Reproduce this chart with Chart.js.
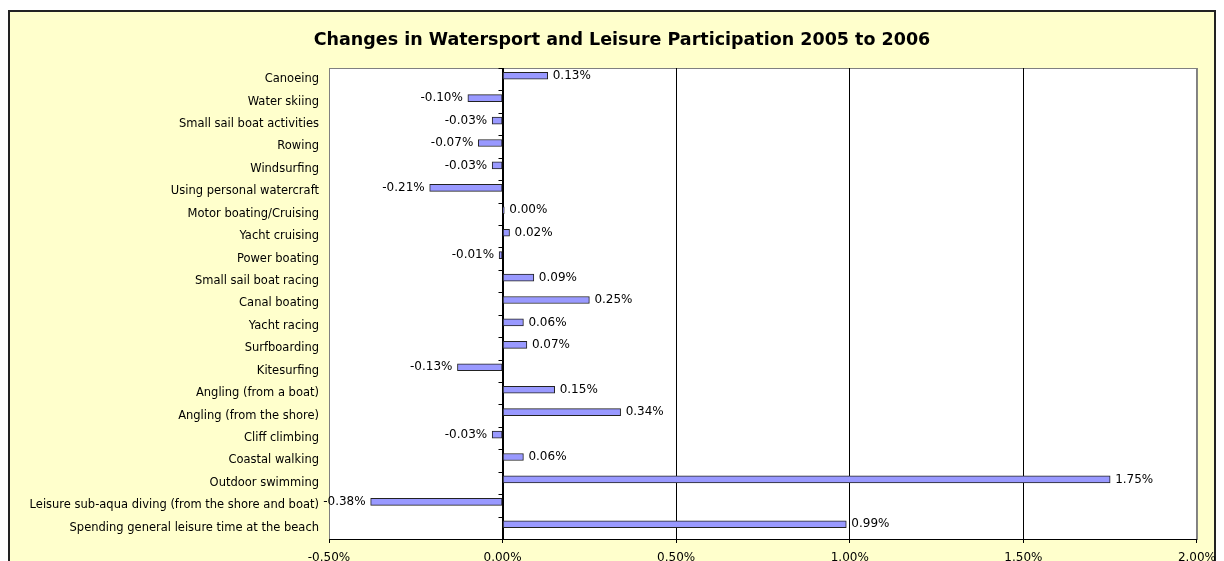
<!DOCTYPE html>
<html>
<head>
<meta charset="utf-8">
<script src="https://cdn.jsdelivr.net/npm/chart.js@4"></script>
<style>
  html, body { margin: 0; padding: 0; background: #fff; }
  canvas { display: block; }
</style>
</head>
<body>
<canvas id="chart" width="1224" height="561"></canvas>
<script>
// Category labels, top to bottom as drawn
const categories = [
  'Canoeing',
  'Water skiing',
  'Small sail boat activities',
  'Rowing',
  'Windsurfing',
  'Using personal watercraft',
  'Motor boating/Cruising',
  'Yacht cruising',
  'Power boating',
  'Small sail boat racing',
  'Canal boating',
  'Yacht racing',
  'Surfboarding',
  'Kitesurfing',
  'Angling (from a boat)',
  'Angling (from the shore)',
  'Cliff climbing',
  'Coastal walking',
  'Outdoor swimming',
  'Leisure sub-aqua diving (from the shore and boat)',
  'Spending general leisure time at the beach'
];

// Change in participation, percentage points
const changes = [
  0.13, -0.10, -0.03, -0.07, -0.03, -0.21, 0.0049, 0.02, -0.01, 0.09,
  0.25, 0.06, 0.07, -0.13, 0.15, 0.34, -0.03, 0.06, 1.75, -0.38, 0.99
];

// Value axis ticks
const axisTicks = [-0.5, 0, 0.5, 1.0, 1.5, 2.0];

const chartTitle = 'Changes in Watersport and Leisure Participation 2005 to 2006';

const FONT = 'DejaVu Sans';

// Chart frame, title, plot area, zero line with category ticks, value labels
const framePlugin = {
  id: 'frame',
  beforeDraw(chart) {
    const ctx = chart.ctx;
    const a = chart.chartArea;
    ctx.save();
    ctx.fillStyle = '#fff';
    ctx.fillRect(0, 0, chart.width, chart.height);
    ctx.fillStyle = '#FFFFCC';
    ctx.fillRect(9, 11, 1206, 560);
    ctx.strokeStyle = '#222';
    ctx.lineWidth = 2;
    ctx.strokeRect(9, 11, 1206, 560);
    ctx.fillStyle = '#fff';
    ctx.fillRect(a.left, a.top, a.right - a.left, a.bottom - a.top);
    ctx.strokeStyle = '#808080';
    ctx.lineWidth = 1;
    ctx.strokeRect(a.left + 0.5, a.top + 0.5, a.right - a.left, a.bottom - a.top);
    // title
    ctx.fillStyle = '#000';
    ctx.font = 'bold 17.5px "' + FONT + '"';
    ctx.textAlign = 'center';
    ctx.textBaseline = 'alphabetic';
    ctx.fillText(chartTitle, 622, 45);
    ctx.restore();
  },
  beforeDatasetsDraw(chart) {
    const ctx = chart.ctx;
    const a = chart.chartArea;
    const x0 = Math.round(chart.scales.x.getPixelForValue(0)) + 0.5;
    const y = chart.scales.y;
    const step = (a.bottom - a.top) / categories.length;
    ctx.save();
    ctx.strokeStyle = '#000';
    ctx.lineWidth = 1;
    ctx.beginPath();
    ctx.moveTo(x0, a.top);
    ctx.lineTo(x0, a.bottom);
    for (let i = 0; i <= categories.length; i++) {
      const py = Math.round(y.getPixelForValue(i) - step / 2) + 0.5;
      ctx.moveTo(x0 - 5, py);
      ctx.lineTo(x0, py);
    }
    ctx.stroke();
    ctx.restore();
  },
  afterDatasetsDraw(chart) {
    const ctx = chart.ctx;
    const meta = chart.getDatasetMeta(0);
    const x0 = chart.scales.x.getPixelForValue(0);
    ctx.save();
    ctx.font = '12px "' + FONT + '"';
    ctx.fillStyle = '#000';
    ctx.textBaseline = 'middle';
    meta.data.forEach((bar, i) => {
      const v = changes[i];
      const text = v.toFixed(2) + '%';
      if (v >= 0) {
        ctx.textAlign = 'left';
        ctx.fillText(text, Math.max(bar.x, x0) + 5, bar.y);
      } else {
        ctx.textAlign = 'right';
        ctx.fillText(text, bar.x - 5, bar.y);
      }
    });
    ctx.restore();
  }
};

new Chart(document.getElementById('chart'), {
  type: 'bar',
  data: {
    labels: categories,
    datasets: [{
      data: changes,
      backgroundColor: '#9999FF',
      borderColor: '#222',
      borderWidth: 1,
      borderSkipped: false,
      barThickness: 7
    }, {
      // empty slot so the real bars sit a little above the row centre, like Excel
      data: categories.map(() => null),
      barThickness: 7
    }]
  },
  plugins: [framePlugin],
  options: {
    indexAxis: 'y',
    responsive: false,
    animation: false,
    events: [],
    layout: { padding: { left: 0, right: 27, top: 68, bottom: 0 } },
    plugins: {
      legend: { display: false },
      tooltip: { enabled: false },
      title: { display: false }
    },
    scales: {
      x: {
        min: axisTicks[0],
        max: axisTicks[axisTicks.length - 1],
        afterBuildTicks: scale => {
          scale.ticks = axisTicks.map(v => ({ value: v }));
        },
        afterFit: scale => { scale.height = 22; },
        grid: {
          color: ctx => (ctx.tick && (ctx.tick.value === axisTicks[0] || ctx.tick.value === axisTicks[axisTicks.length - 1])) ? '#808080' : '#000',
          tickColor: '#000',
          tickLength: 4,
          lineWidth: 1
        },
        border: { display: true, color: '#000', width: 1 },
        ticks: {
          padding: 8,
          maxRotation: 0,
          color: '#000',
          font: { family: FONT, size: 12 },
          callback: v => v.toFixed(2) + '%'
        }
      },
      y: {
        afterFit: scale => { scale.width = 329; },
        grid: { display: false, drawTicks: false },
        border: { display: false },
        ticks: {
          padding: 10,
          autoSkip: false,
          color: '#000',
          font: { family: FONT, size: 11.5 }
        }
      }
    }
  }
});
</script>
</body>
</html>
